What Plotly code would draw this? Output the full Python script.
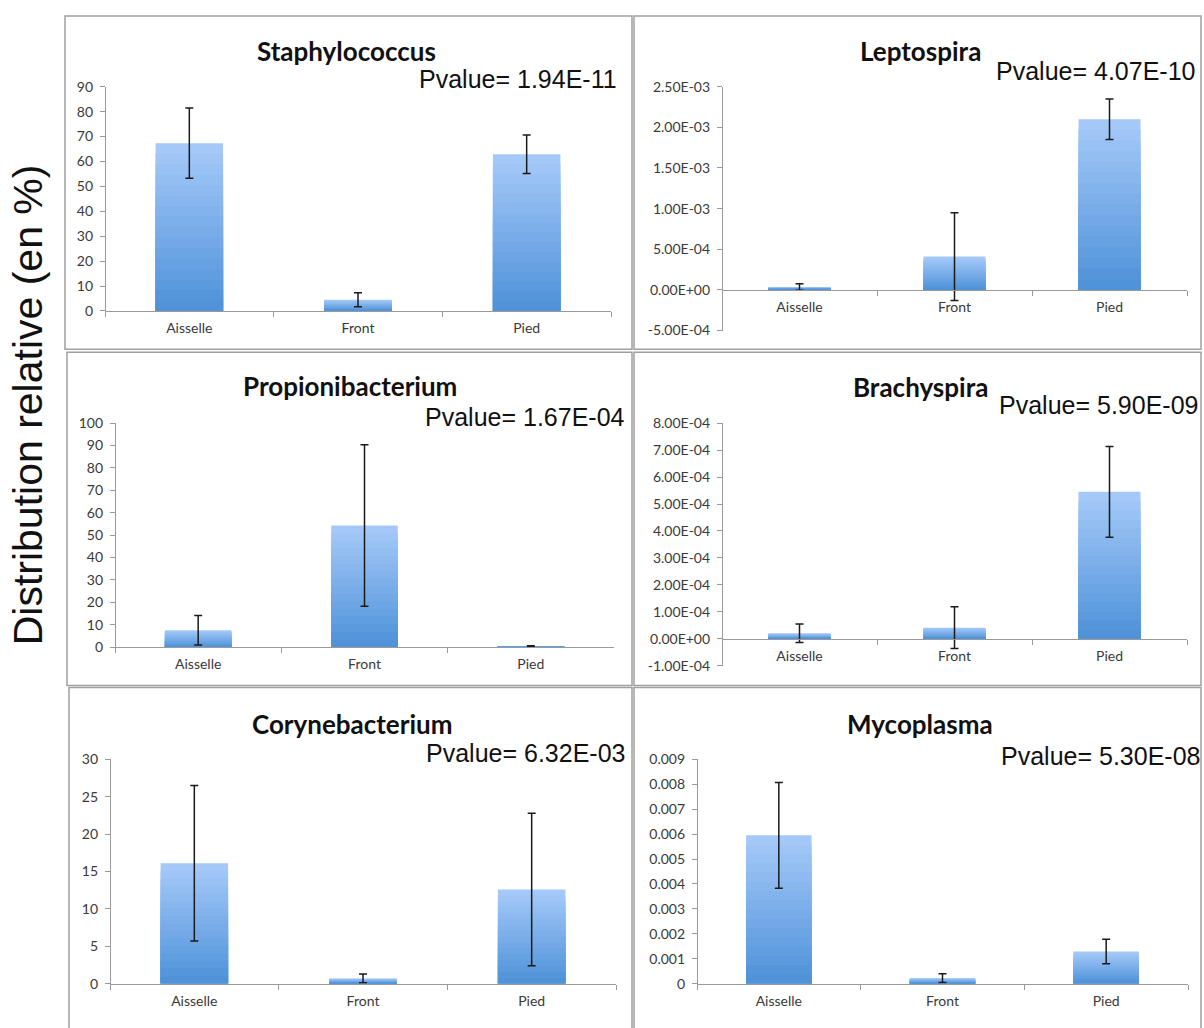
import plotly.graph_objects as go

W, H = 1204, 1028

categories = ["Aisselle", "Front", "Pied"]

staph_vals = [67.3, 4.5, 62.9]
staph_err = [14.1, 2.8, 7.7]
lepto_vals = [3.5e-5, 4.1e-4, 2.10e-3]
lepto_err = [4.0e-5, 5.4e-4, 2.5e-4]
propi_vals = [7.6, 54.3, 0.5]
propi_err = [6.6, 36.0, 0.2]
brachy_vals = [2.1e-5, 4.2e-5, 5.45e-4]
brachy_err = [3.4e-5, 7.7e-5, 1.68e-4]
coryne_vals = [16.1, 0.7, 12.6]
coryne_err = [10.4, 0.6, 10.2]
myco_vals = [5.95e-3, 2.2e-4, 1.29e-3]
myco_err = [2.12e-3, 1.8e-4, 4.9e-4]

titles = ["Staphylococcus", "Leptospira", "Propionibacterium",
          "Brachyspira", "Corynebacterium", "Mycoplasma"]
pvalues = ["Pvalue= 1.94E-11", "Pvalue= 4.07E-10", "Pvalue= 1.67E-04",
           "Pvalue= 5.90E-09", "Pvalue= 6.32E-03", "Pvalue= 5.30E-08"]

staph_ticks = [0, 10, 20, 30, 40, 50, 60, 70, 80, 90]
staph_labels = ["0", "10", "20", "30", "40", "50", "60", "70", "80", "90"]
lepto_ticks = [-5e-4, 0, 5e-4, 1e-3, 1.5e-3, 2e-3, 2.5e-3]
lepto_labels = ["-5.00E-04", "0.00E+00", "5.00E-04", "1.00E-03",
                "1.50E-03", "2.00E-03", "2.50E-03"]
propi_ticks = [0, 10, 20, 30, 40, 50, 60, 70, 80, 90, 100]
propi_labels = ["0", "10", "20", "30", "40", "50", "60", "70", "80", "90", "100"]
brachy_ticks = [-1e-4, 0, 1e-4, 2e-4, 3e-4, 4e-4, 5e-4, 6e-4, 7e-4, 8e-4]
brachy_labels = ["-1.00E-04", "0.00E+00", "1.00E-04", "2.00E-04", "3.00E-04",
                 "4.00E-04", "5.00E-04", "6.00E-04", "7.00E-04", "8.00E-04"]
coryne_ticks = [0, 5, 10, 15, 20, 25, 30]
coryne_labels = ["0", "5", "10", "15", "20", "25", "30"]
myco_ticks = [0, 0.001, 0.002, 0.003, 0.004, 0.005, 0.006, 0.007, 0.008, 0.009]
myco_labels = ["0", "0.001", "0.002", "0.003", "0.004", "0.005",
               "0.006", "0.007", "0.008", "0.009"]

values = [staph_vals, lepto_vals, propi_vals, brachy_vals, coryne_vals, myco_vals]
errors = [staph_err, lepto_err, propi_err, brachy_err, coryne_err, myco_err]
ticks = [staph_ticks, lepto_ticks, propi_ticks, brachy_ticks, coryne_ticks, myco_ticks]
labels = [staph_labels, lepto_labels, propi_labels, brachy_labels, coryne_labels, myco_labels]

# layout geometry in pixels (styling, not data)
panels = [
    dict(box=(65, 7, 632, 346), x=(105, 611), y=(79, 307), title=(347, 43), pv=(619, 71)),
    dict(box=(634, 7, 1201, 346), x=(722, 1187), y=(79, 327), title=(920, 43), pv=(1197, 63)),
    dict(box=(67, 349, 632, 688), x=(115, 614), y=(421, 649), title=(350, 383), pv=(627, 415)),
    dict(box=(634, 349, 1201, 688), x=(722, 1187), y=(421, 668), title=(920, 384), pv=(1200, 403)),
    dict(box=(69, 690, 632, 1040), x=(110, 616), y=(763, 991), title=(352, 727), pv=(627, 757)),
    dict(box=(634, 690, 1201, 1040), x=(697, 1188), y=(763, 991), title=(920, 727), pv=(1202, 760)),
]

def px(x):
    return x / W

def py(y):
    return 1 - y / H

TOP = (164, 201, 248)
BOT = (74, 143, 215)
NLAYERS = 16

fig = go.Figure()
layout = dict(
    width=W, height=H, margin=dict(l=0, r=0, t=0, b=0),
    paper_bgcolor="white", plot_bgcolor="white", showlegend=False,
    barmode="overlay", bargap=0.6,
    font=dict(family="Lato", size=14, color="#3a3a3a"),
    shapes=[], annotations=[],
)

for i, p in enumerate(panels):
    n = i + 1
    xa = "x" if n == 1 else f"x{n}"
    ya = "y" if n == 1 else f"y{n}"
    xkey = "xaxis" if n == 1 else f"xaxis{n}"
    ykey = "yaxis" if n == 1 else f"yaxis{n}"
    vals = values[i]
    errs = errors[i]
    tv = ticks[i]
    ymin, ymax = tv[0], tv[-1]

    # gradient bars: stacked overlays of decreasing height
    for k in range(NLAYERS):
        f = k / NLAYERS
        c = tuple(int(round(TOP[j] + (BOT[j] - TOP[j]) * f)) for j in range(3))
        fig.add_trace(go.Bar(
            x=categories, y=[v * (1 - f) for v in vals], xaxis=xa, yaxis=ya,
            marker=dict(color=f"rgb{c}", line=dict(width=0)),
            width=0.4, hoverinfo="skip" if k else "x+y",
        ))
    # error bars on top
    fig.add_trace(go.Bar(
        x=categories, y=vals, xaxis=xa, yaxis=ya, width=0.4,
        marker=dict(color="rgba(0,0,0,0)", line=dict(width=0)),
        error_y=dict(type="data", array=errs, visible=True,
                     color="#1a1a1a", thickness=1.5, width=4),
        hoverinfo="skip",
    ))

    y0d, y1d = py(p["y"][1]), py(p["y"][0])
    zero_pos = y0d + (0 - ymin) / (ymax - ymin) * (y1d - y0d)
    layout[xkey] = dict(
        domain=[px(p["x"][0]), px(p["x"][1])], anchor="free", position=zero_pos,
        range=[-0.5, 2.5], showline=True, linecolor="#9a9a9a", linewidth=1.2,
        ticks="outside", tickson="boundaries", ticklen=5, tickcolor="#9a9a9a",
        showgrid=False, zeroline=False, fixedrange=True,
        tickfont=dict(family="Lato", size=14, color="#3a3a3a"),
        ticklabelstandoff=4,
    )
    layout[ykey] = dict(
        domain=[y0d, y1d], anchor="free", position=px(p["x"][0]),
        range=[ymin, ymax], tickvals=tv, ticktext=labels[i],
        showline=True, linecolor="#9a9a9a", linewidth=1.2,
        ticks="outside", ticklen=5, tickcolor="#9a9a9a",
        showgrid=False, zeroline=False, fixedrange=True,
        tickfont=dict(family="Lato", size=14, color="#3a3a3a"),
        ticklabelstandoff=4,
    )

    bx0, by0, bx1, by1 = p["box"]
    layout["shapes"].append(dict(
        type="rect", xref="paper", yref="paper",
        x0=px(bx0), x1=px(bx1), y0=py(by1), y1=py(by0),
        line=dict(color="#a0a0a0", width=1.5), fillcolor="rgba(0,0,0,0)", layer="below",
    ))
    layout["annotations"].append(dict(
        text=f"<b>{titles[i]}</b>", x=px(p["title"][0]), y=py(p["title"][1]),
        xref="paper", yref="paper", xanchor="center", yanchor="middle",
        showarrow=False, font=dict(family="Lato", size=26, color="#111111"),
    ))
    layout["annotations"].append(dict(
        text=pvalues[i], x=px(p["pv"][0]), y=py(p["pv"][1]),
        xref="paper", yref="paper", xanchor="right", yanchor="middle",
        showarrow=False, font=dict(family="Liberation Sans", size=25, color="#111111"),
    ))

layout["annotations"].append(dict(
    text="Distribution relative (en %)", x=px(28), y=py(403),
    xref="paper", yref="paper", xanchor="center", yanchor="middle",
    textangle=-90, showarrow=False,
    font=dict(family="Liberation Sans", size=41, color="#111111"),
))

fig.update_layout(**layout)
fig.write_html("out.html", config={"displayModeBar": False},
               post_script="document.body.style.margin='0';document.body.style.overflow='hidden';")
